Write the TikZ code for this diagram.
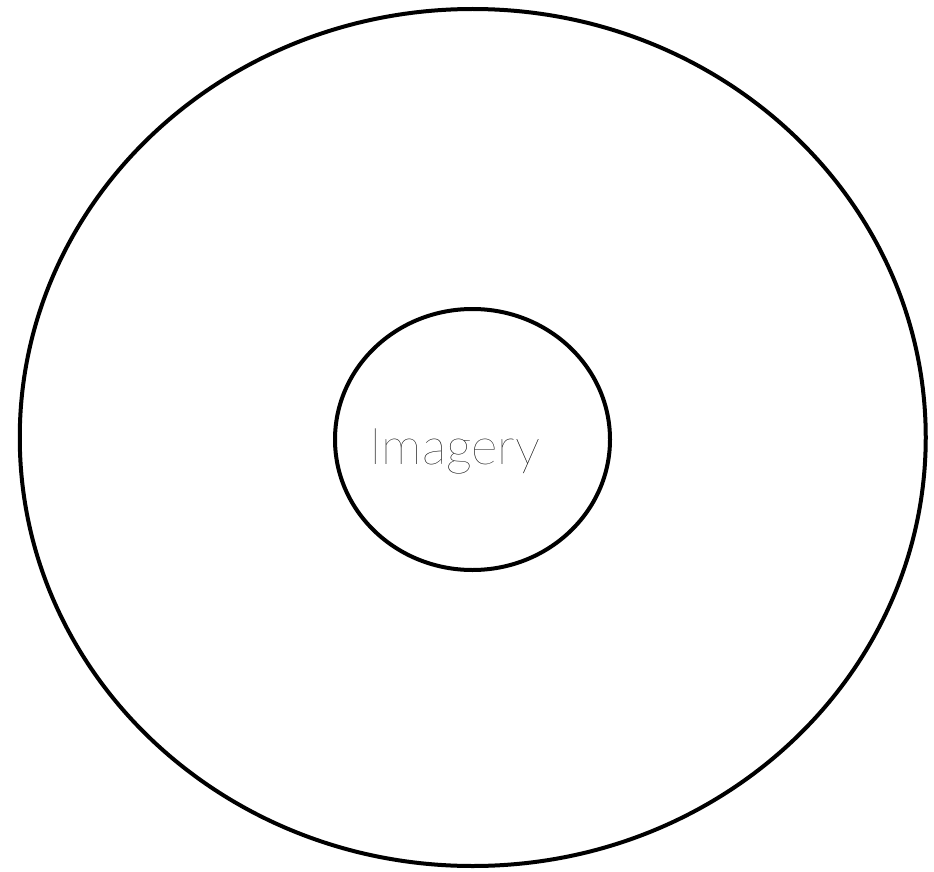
\documentclass[tikz,border=0pt]{standalone}
\usepackage{fontspec}
\usetikzlibrary{shapes.geometric}
\newfontfamily\thinfont{Lato Thin}
\begin{document}
\begin{tikzpicture}[x=1pt,y=-1pt,
  ring/.style={draw=black, line width=4pt, fill=none, ellipse, inner sep=0pt}]
\useasboundingbox (0,0) rectangle (934,872);
\node[ring, minimum width=906pt, minimum height=857pt] (outer) at (472.75,437.5) {};
\node[ring, minimum width=275pt, minimum height=261pt] (inner) at (472.5,439.5) {};
\node[font=\thinfont\fontsize{51}{51}\selectfont, inner sep=0pt, anchor=base] (label) at (455,464) {Imagery};
\end{tikzpicture}
\end{document}
